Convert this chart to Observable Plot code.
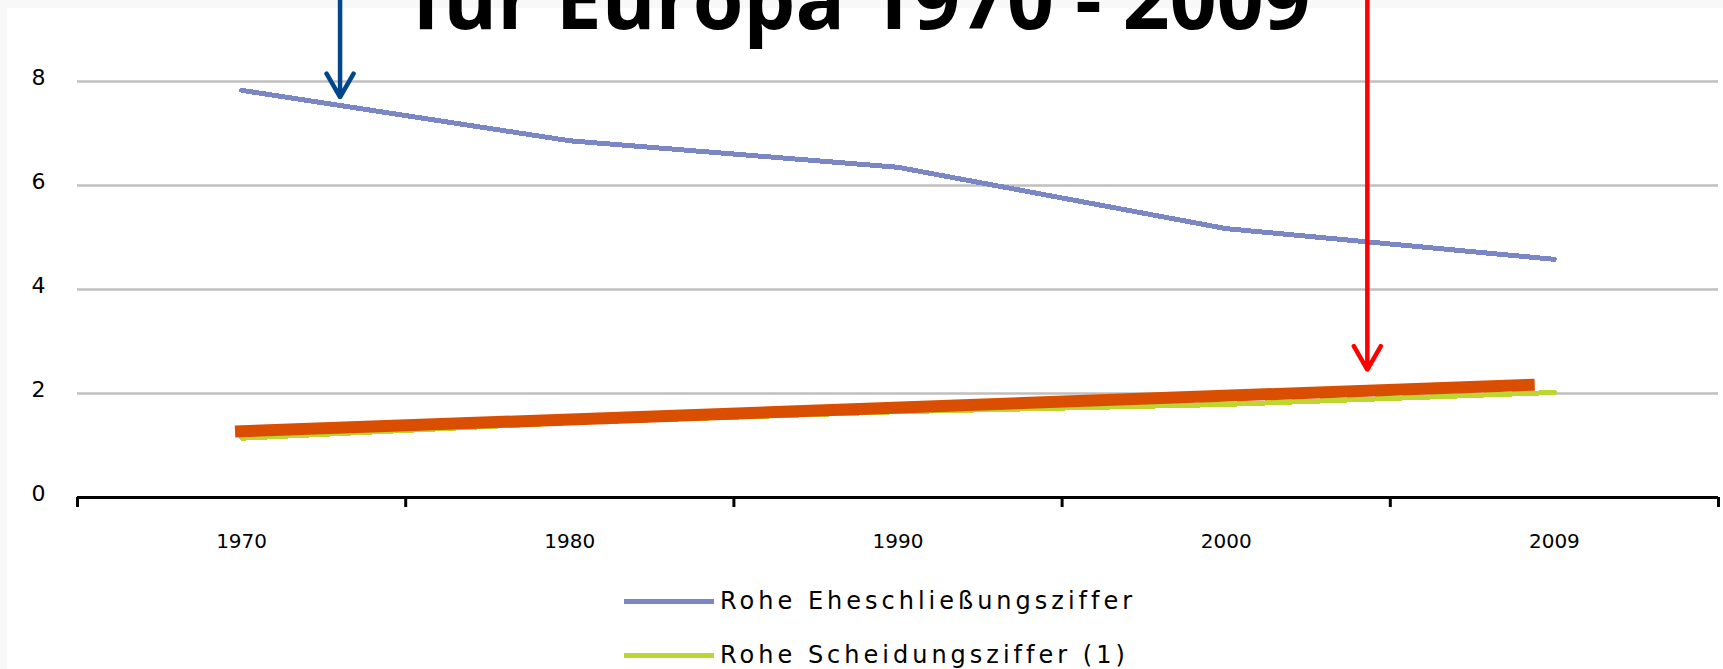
<!DOCTYPE html>
<html><head><meta charset="utf-8">
<script src="https://cdn.jsdelivr.net/npm/d3@7"></script>
<script src="https://cdn.jsdelivr.net/npm/@observablehq/plot@0.6"></script>
<style>
html,body{margin:0;padding:0;background:#f8f8f8;}
#wrap{position:relative;width:1723px;height:669px;overflow:hidden;}
#panel{position:absolute;left:7px;top:8px;right:0;bottom:0;background:#fff;}
#chart{position:absolute;left:0;top:0;}
.item{position:absolute;left:624px;display:flex;align-items:center;white-space:nowrap;transform:translateY(-50%);
  font-family:"DejaVu Sans";font-size:24px;letter-spacing:4px;color:#000;}
.sw{width:90px;height:5px;margin-right:6px;}
</style></head><body>
<div id="wrap"><div id="panel"></div><div id="chart"></div></div>
<script>
// Data
const years = ["1970", "1980", "1990", "2000", "2009"];
const marriageRate = [7.83, 6.86, 6.35, 5.17, 4.58];
const divorceRate = [1.14, 1.44, 1.65, 1.79, 2.02];
const yTicks = [0, 2, 4, 6, 8];
// Highlighted trend overlay (position on category index, value)
const trendPos = [-0.02, 3.94];
const trendValues = [1.27, 2.17];
// Annotation arrows (category index position, start value, tip value)
const arrowPos = [0.30, 3.43];
const arrowStart = [9.6, 9.6];
const arrowTip = [7.70, 2.46];
const seriesNames = ["Rohe Eheschließungsziffer", "Rohe Scheidungsziffer (1)"];
const titleText = "für Europa 1970 - 2009";

const colors = {marriage: "#7b86c4", divorce: "#bed630", trend: "#d94e00"};

const data = years.map((year, i) => ({i, year, marriage: marriageRate[i], divorce: divorceRate[i]}));
const trend = trendPos.map((x, k) => ({x, y: trendValues[k]}));
const arrows = arrowPos.map((x, k) => ({x, y1: arrowStart[k], y2: arrowTip[k]}));

const plot = Plot.plot({
  width: 1723, height: 575,
  marginLeft: 77, marginRight: 5, marginTop: 81, marginBottom: 78,
  style: {background: "transparent", overflow: "visible", fontFamily: "DejaVu Sans"},
  x: {domain: [-0.5, years.length - 0.5]},
  y: {domain: [0, 8]},
  marks: [
    Plot.gridY(yTicks.filter(d => d > 0), {stroke: "#bfbfbf", strokeOpacity: 1, strokeWidth: 2.5}),
    Plot.axisY(yTicks, {tickSize: 0, tickPadding: 32, fontSize: 22, tickFormat: "d", label: null, fill: "#000", dy: -4}),
    Plot.ruleY([0], {stroke: "#000", strokeWidth: 3}),
    Plot.axisX(d3.range(years.length + 1).map(k => k - 0.5), {tickSize: 10, tickFormat: () => "", stroke: "#000", strokeWidth: 3, label: null}),
    Plot.axisX(d3.range(years.length), {tickSize: 0, tickPadding: 36, tickFormat: k => years[k], fontSize: 20, label: null, fill: "#000"}),
    Plot.line(data, {x: "i", y: "marriage", stroke: colors.marriage, strokeWidth: 5, shapeRendering: "crispEdges"}),
    Plot.line(data, {x: "i", y: "divorce", stroke: colors.divorce, strokeWidth: 5, shapeRendering: "crispEdges"}),
    Plot.line(trend, {x: "x", y: "y", stroke: colors.trend, strokeWidth: 12, strokeLinecap: "butt"}),
    Plot.arrow(arrows.slice(0, 1), {x: "x", y1: "y1", y2: "y2", stroke: "#00468b", strokeWidth: 4.5, headLength: 9}),
    Plot.arrow(arrows.slice(1, 2), {x: "x", y1: "y1", y2: "y2", stroke: "#ff0000", strokeWidth: 4.5, headLength: 9}),
    Plot.text([titleText], {frameAnchor: "top", dx: -37, dy: -53, lineAnchor: "bottom", fontSize: 82, fontWeight: "bold", fontFamily: "Open Sans", fill: "#000"})
  ]
});
document.getElementById("chart").appendChild(plot);

const wrap = document.getElementById("wrap");
const legendY = [601, 655];
const legendColors = [colors.marriage, colors.divorce];
seriesNames.forEach((name, k) => {
  const item = document.createElement("div");
  item.className = "item";
  item.style.top = legendY[k] + "px";
  const sw = document.createElement("span");
  sw.className = "sw";
  sw.style.background = legendColors[k];
  const t = document.createElement("span");
  t.textContent = name;
  item.appendChild(sw); item.appendChild(t);
  wrap.appendChild(item);
});
</script></body></html>
